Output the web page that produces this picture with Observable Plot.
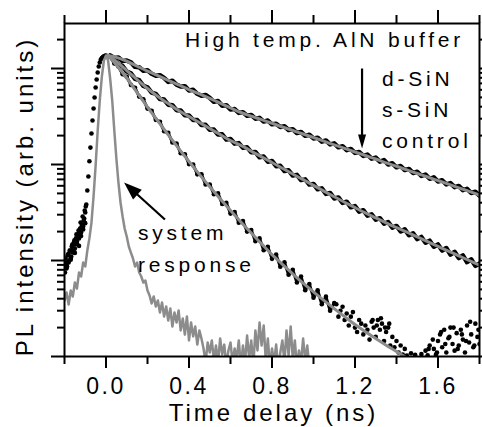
<!DOCTYPE html>
<html><head><meta charset="utf-8">
<script src="https://cdn.jsdelivr.net/npm/d3@7"></script>
<script src="https://cdn.jsdelivr.net/npm/@observablehq/plot@0.6"></script>
<style>
body{margin:0;background:#fff;}
</style></head><body><div id="chart"></div>
<script>
// ---- tick values ----
const xMajor = [0, 0.4, 0.8, 1.2, 1.6];
const xMinor = [-0.2, 0.2, 0.6, 1.0, 1.4, 1.8];
const yMajor = [1, 10, 100, 1000];
const yMinor = [2,3,4,5,6,7,8,9,20,30,40,50,60,70,80,90,200,300,400,500,600,700,800,900,2000];

// ---- measured PL transients (time in ns, intensity arb. units) ----
const decayT = [0.02,0.04,0.06,0.08,0.10,0.12,0.14,0.16,0.18,0.20,
0.22,0.24,0.26,0.28,0.30,0.32,0.34,0.36,0.38,0.40,
0.42,0.44,0.46,0.48,0.50,0.52,0.54,0.56,0.58,0.60,
0.62,0.64,0.66,0.68,0.70,0.72,0.74,0.76,0.78,0.80,
0.82,0.84,0.86,0.88,0.90,0.92,0.94,0.96,0.98,1.00,
1.02,1.04,1.06,1.08,1.10,1.12,1.14,1.16,1.18,1.20,
1.22,1.24,1.26,1.28,1.30,1.32,1.34,1.36,1.38,1.40,
1.42,1.44,1.46,1.48,1.50,1.52,1.54,1.56,1.58,1.60,
1.62,1.64,1.66,1.68,1.70,1.72,1.74,1.76,1.78,1.80];
const dSiN = [1370,1290,1300,1200,1210,1160,1040,1030,950,960,
880,840,850,800,725,745,680,650,655,590,
600,545,520,530,495,450,458,410,415,374,
378,345,350,322,328,300,306,280,287,262,
266,246,250,229,233,213,218,199,204,187,
190,173,178,162,166,151,155,141,145,132,
135,123,127,115,118,107,111,100,103,93.5,
96.5,87.5,90,81.5,84,76,78.5,71,73.5,66.5,
68.5,62,64,58,59.8,54,55.8,50.5,52,47.5];
const sSiN = [1320,1270,1110,1060,930,890,780,755,660,635,
560,545,480,475,420,415,368,366,325,324,
290,290,258,259,230,231,205,206,182,184,
165,167,149,151,134,135,119,121,107,109,
96,97,85.5,87,76.8,78,68.8,70,61.8,62.8,
55.2,56.4,49.4,50.6,44.3,45.4,39.8,41.0,35.8,36.9,
32.3,33.4,29.3,30.3,26.6,27.6,24.2,25.1,22.0,22.9,
20.1,21.1,18.3,19.2,16.7,17.6,15.3,16.1,13.9,14.7,
12.7,13.5,11.5,12.3,10.6,11.3,9.6,10.3,8.8,9.3];
const controlV = [1330,1130,1050,870,820,675,630,510,478,382,
362,292,278,222,214,170,165,131,128,101,
100,79,79,62,62,49,50,38.8,40,30.8,
32,24.8,25.8,20.0,20.8,15.9,17.0,12.8,13.9,10.4,
11.5,8.6,9.6,7.1,8.0,5.9,6.8,4.9,5.7,4.1,
4.9,3.5,4.2,3.0,3.6];
const tailT = [1.11,1.12,1.13,1.14,1.15,1.16,1.17,1.18,1.19,1.20,
1.21,1.22,1.23,1.24,1.25,1.26,1.27,1.28,1.29,1.30,
1.31,1.32,1.33,1.34,1.35,1.36,1.37,1.38,1.39,1.40,
1.41,1.42,1.43,1.44,1.45,1.46,1.47,1.48,1.49,1.50,
1.51,1.52,1.53,1.54,1.55,1.56,1.57,1.58,1.59,1.60,
1.61,1.62,1.63,1.64,1.65,1.66,1.67,1.68,1.69,1.70,
1.71,1.72,1.73,1.74,1.75,1.76,1.77,1.78,1.79,1.80];
const tailV = [3.5,2.6,3.0,3.3,2.4,2.8,2.1,2.6,2.9,2.0,
1.8,2.4,2.2,1.7,2.1,1.9,1.5,2.3,2.0,1.6,
2.4,1.9,2.2,1.45,1.8,2.0,1.3,1.6,1.25,1.45,
1.1,1.3,1.05,1.2,1.02,0.95,1.08,0.9,1.04,0.85,
0.8,1.06,0.9,1.15,1.03,1.3,0.95,1.2,1.05,1.45,
1.7,1.25,1.9,1.1,1.55,2.0,1.35,1.15,1.75,1.3,
1.9,1.5,1.1,2.1,1.4,1.7,1.25,2.2,1.6,1.35];
const tail2T = [1.285,1.305,1.325,1.345,1.365,1.555,1.575,1.595,1.615,1.635,1.655,1.675,1.695,1.715,1.735,1.755,1.775,1.795];
const tail2V = [2.4,2.1,2.5,2.0,2.2,1.2,1.5,1.1,1.8,1.35,1.6,2.0,1.2,1.7,1.45,2.3,1.3,1.9];
const riseT = [-0.200,-0.195,-0.190,-0.185,-0.180,-0.175,-0.170,-0.165,-0.160,-0.155,
-0.150,-0.145,-0.140,-0.135,-0.130,-0.125,-0.120,-0.115,-0.110,-0.105,
-0.100,-0.095,-0.090,-0.085,-0.080,-0.075,-0.070,-0.065,-0.060,-0.055,
-0.050,-0.045,-0.040,-0.035,-0.030,-0.025,-0.020,-0.015,-0.010,-0.005,0.000];
const riseV = [8.87,10.5,8.25,11.3,9.53,12.7,10.5,14.0,12.1,15.4,
13.3,17.0,15.0,18.7,17.0,21.5,19.6,23.7,22.6,27.4,
31.6,38.3,53.6,75,108,150,210,287,383,499,
634,768,908,1049,1155,1241,1286,1318,1340,1355,1366];
const rise2T = [-0.1975,-0.1925,-0.1875,-0.1825,-0.1775,-0.1725,-0.1675,-0.1625,-0.1575,-0.1525,
-0.1475,-0.1425,-0.1375,-0.1325,-0.1275,-0.1225,-0.1175,-0.1125,-0.1075,-0.1025,-0.0975];
const rise2V = [7.5,9.53,8.66,11.5,10.0,12.7,11.0,14.7,12.7,16.2,
14.7,18.7,17.0,20.5,19.6,24.9,22.6,28.7,26.1,33.2,36.5];
const rise3T = [-0.200,-0.190,-0.180,-0.170,-0.160,-0.150,-0.140,-0.130,-0.120,-0.110,-0.100];
const rise3V = [10.0,9.0,11.8,10.2,13.5,12.0,15.8,14.2,18.0,21.0,24.5];

// ---- fitted decays ----
const fitT = [0.01,0.05,0.10,0.15,0.20,0.25,0.30,0.35,0.40,0.45,0.50,0.55,0.60,0.65,0.70,0.75,0.80,0.85,0.90,0.95,
1.00,1.05,1.10,1.15,1.20,1.25,1.30,1.35,1.40,1.45,1.50,1.55,1.60,1.65,1.70,1.75,1.80];
const fitD = [1366,1305,1190,1060,940,843,752,675,604,545,489,436,389,348,319,293,269,246,226,208,
191,175,160,147,135,124,114,104,95.8,87.9,80.6,74.1,68.0,62.4,57.2,52.5,48.1];
const fitS = [1366,1183,953,768,619,511,432,365,316,274,237,205,178,158,138,120,105,91.3,79.6,69.5,
60.6,52.8,46.1,40.4,35.5,31.3,27.8,24.7,22.0,19.7,17.6,15.7,14.0,12.5,11.2,10.0,8.93];
const fitC = [1366,1088,796,562,397,284,204,147.5,107.5,79.0,58.7,44.0,33.2,25.2,19.3,14.9,11.5,9.13,7.25,5.80,
4.72,3.84,3.15,2.60,2.15,1.81,1.54,1.31,1.13,0.965];

// ---- system response ----
const sysT = [-0.20,-0.19,-0.18,-0.17,-0.16,-0.15,-0.14,-0.13,-0.12,-0.11,-0.10,-0.09,-0.08,-0.07,-0.06,-0.05,-0.04,-0.03,-0.02,-0.01,
0.00,0.01,0.02,0.03,0.04,0.05,0.06,0.07,0.08,0.09,0.10,0.11,0.12,0.13,0.14,0.15,0.16,0.17,0.18,0.19,
0.20,0.21,0.22,0.23,0.24,0.25,0.26,0.27,0.28,0.29,0.30,0.31,0.32,0.33,0.34,0.35,0.36,0.37,0.38,0.39,
0.40,0.41,0.42,0.43,0.44,0.45,0.46,0.47,0.48,0.49,0.50,0.51,0.52,0.53,0.54,0.55,0.56,0.57,0.58,0.59,
0.60,0.61,0.62,0.63,0.64,0.65,0.66,0.67,0.68,0.69,0.70,0.71,0.72,0.73,0.74,0.75,0.76,0.77,0.78,0.79,
0.80,0.81,0.82,0.83,0.84,0.85,0.86,0.87,0.88,0.89,0.90,0.91,0.92,0.93,0.94,0.95,0.96,0.97,0.98];
const sysV = [3.83,4.64,3.48,4.87,4.22,5.90,5.11,7.50,6.81,9.53,8.66,12.7,17.0,24.9,46.4,97.6,226,464,825,1212,
1366,1212,787,464,226,115.5,64.9,40.2,28.7,21.5,17.8,14.0,12.1,10.5,8.66,9.53,7.50,6.81,5.90,6.19,
4.87,4.32,3.57,4.22,3.32,3.83,2.87,3.65,2.61,3.32,2.37,3.16,2.05,2.87,2.26,3.01,1.87,2.49,1.69,2.61,
1.47,2.26,1.62,2.05,1.33,1.87,1.54,1.21,0.866,1.40,1.10,1.47,0.909,1.30,0.866,1.54,1.049,1.33,0.806,1.155,
1.40,0.866,1.21,0.953,1.47,0.787,1.30,0.866,1.655,0.953,1.47,0.806,1.87,1.155,2.26,1.30,2.10,0.909,1.54,0.787,
1.21,0.866,1.33,0.75,1.10,1.47,0.866,1.87,1.024,2.05,0.953,1.47,0.787,1.155,0.866,1.54,0.909,1.30,0.787];

// ---- labels ----
const xLabel = "Time delay (ns)";
const yLabel = "PL intensity (arb. units)";
const legendTitle = "High temp. AlN buffer";
const sampleNames = ["d-SiN", "s-SiN", "control"];
const sysLabel = ["system", "response"];

// ---- build tables ----
const decay = decayT.map((t, i) => ({t, d: dSiN[i], s: sSiN[i]}));
const ctl = controlV.map((v, i) => ({t: decayT[i], v}));
const tail = tailT.map((t, i) => ({t, v: tailV[i]})).concat(tail2T.map((t, i) => ({t, v: tail2V[i]})));
const rise = riseT.map((t, i) => ({t, v: riseV[i]}))
  .concat(rise2T.map((t, i) => ({t, v: rise2V[i]})))
  .concat(rise3T.map((t, i) => ({t, v: rise3V[i]})));
const fits = fitT.map((t, i) => ({t, d: fitD[i], s: fitS[i], c: fitC[i]}));
const fitsC = fits.slice(0, fitC.length);
const sys = sysT.map((t, i) => ({t, v: sysV[i]}));

// annotation placement (data coordinates)
const annot = [
  {t: 0.381, v: 1655, text: legendTitle},
  {t: 1.330, v: 665, text: sampleNames[0]},
  {t: 1.330, v: 309, text: sampleNames[1]},
  {t: 1.330, v: 147, text: sampleNames[2]},
  {t: 0.154, v: 16.5, text: sysLabel[0]},
  {t: 0.154, v: 7.68, text: sysLabel[1]}
];
const arrowV = {x1: 1.234, y1: 1000, x2: 1.234, y2: 200, hx: 1.234, hy: 146.8, rot: 0};
const arrowD = {x1: 0.284, y1: 26.7, x2: 0.143, y2: 50.5, hx: 0.087, hy: 64.9, rot: 132};
const headSmall = {draw(ctx) { ctx.moveTo(0, 0); ctx.lineTo(-4, -14); ctx.lineTo(4, -14); ctx.closePath(); }};
const headLarge = {draw(ctx) { ctx.moveTo(0, 0); ctx.lineTo(-6.5, -18); ctx.lineTo(6.5, -18); ctx.closePath(); }};

const black = "#000", gray = "#8c8c8c";
const blank = () => "";
const frameH = 333;

const chart = Plot.plot({
  width: 482, height: 427,
  marginLeft: 64, marginRight: 3, marginTop: 23, marginBottom: 71,
  x: {domain: [-0.2, 1.8]},
  y: {type: "log", domain: [1, 2943]},
  style: {fontFamily: "'Liberation Sans', Arial, sans-serif", fontSize: "23px", color: "black", background: "white"},
  marks: [
    Plot.line(decay, {x: "t", y: "d", stroke: black, strokeWidth: 4.5, clip: true}),
    Plot.line(decay, {x: "t", y: "s", stroke: black, strokeWidth: 4.5, clip: true}),
    Plot.line(ctl, {x: "t", y: "v", stroke: black, strokeWidth: 3, clip: true}),
    Plot.dot(ctl, {x: "t", y: "v", r: 2.3, fill: black, clip: true}),
    Plot.dot(tail, {x: "t", y: "v", r: 2.3, fill: black, clip: true}),
    Plot.dot(rise, {x: "t", y: "v", r: 2.3, fill: black, clip: true}),
    Plot.line(fits, {x: "t", y: "d", stroke: gray, strokeWidth: 3, curve: "catmull-rom", clip: true}),
    Plot.line(fits, {x: "t", y: "s", stroke: gray, strokeWidth: 3, curve: "catmull-rom", clip: true}),
    Plot.line(fitsC, {x: "t", y: "c", stroke: gray, strokeWidth: 3, curve: "catmull-rom", clip: true}),
    Plot.line(sys, {x: "t", y: "v", stroke: gray, strokeWidth: 2.5, clip: true}),
    Plot.frame({stroke: black, strokeWidth: 2}),
    Plot.axisX({ticks: xMajor, tickSize: 12, tickPadding: 9, strokeWidth: 2, tickFormat: d3.format(".1f"), label: null}),
    Plot.axisX({ticks: xMinor, tickSize: 8, strokeWidth: 2, tickFormat: blank, label: null}),
    Plot.tickX(xMajor, {x: d => d, stroke: black, strokeWidth: 2, insetTop: -13, insetBottom: frameH}),
    Plot.tickX(xMinor, {x: d => d, stroke: black, strokeWidth: 2, insetTop: -8, insetBottom: frameH}),
    Plot.axisY({ticks: yMajor, tickSize: 13, strokeWidth: 2, tickFormat: blank, label: null}),
    Plot.axisY({ticks: yMinor, tickSize: 7, strokeWidth: 2, tickFormat: blank, label: null}),
    Plot.tickY(yMajor, {y: d => d, stroke: black, strokeWidth: 2, insetRight: -13, insetLeft: 415}),
    Plot.tickY(yMinor, {y: d => d, stroke: black, strokeWidth: 2, insetRight: -7, insetLeft: 415}),
    Plot.text([xLabel], {frameAnchor: "bottom", dy: 64, dx: 1.5, textAnchor: "middle", lineAnchor: "bottom", fontSize: 24, fill: black}),
    Plot.text([yLabel], {frameAnchor: "left", rotate: -90, dx: -39, dy: 6.5, textAnchor: "middle", lineAnchor: "middle", fontSize: 24, fill: black}),
    Plot.text(annot, {x: "t", y: "v", text: "text", textAnchor: "start", lineAnchor: "bottom", fontSize: 21, fill: black}),
    Plot.link([arrowV, arrowD], {x1: "x1", y1: "y1", x2: "x2", y2: "y2", stroke: black, strokeWidth: 2.2}),
    Plot.dot([arrowV], {x: "hx", y: "hy", symbol: headSmall, rotate: "rot", fill: black, stroke: null}),
    Plot.dot([arrowD], {x: "hx", y: "hy", symbol: headLarge, rotate: "rot", fill: black, stroke: null})
  ]
});

// letter spacing (the reference typography is widely tracked)
const tickLabels = xMajor.map(d3.format(".1f"));
const annotTexts = annot.map(d => d.text);
d3.select(chart).selectAll("text").each(function() {
  const s = this.textContent;
  let ls = null;
  if (tickLabels.includes(s)) ls = 2.5;
  else if (s === xLabel || s === yLabel) ls = 3;
  else if (annotTexts.includes(s)) ls = 3.8;
  if (ls != null) { this.setAttribute("letter-spacing", ls + "px"); this.style.letterSpacing = ls + "px"; }
});
document.getElementById("chart").appendChild(chart);
</script></body></html>
